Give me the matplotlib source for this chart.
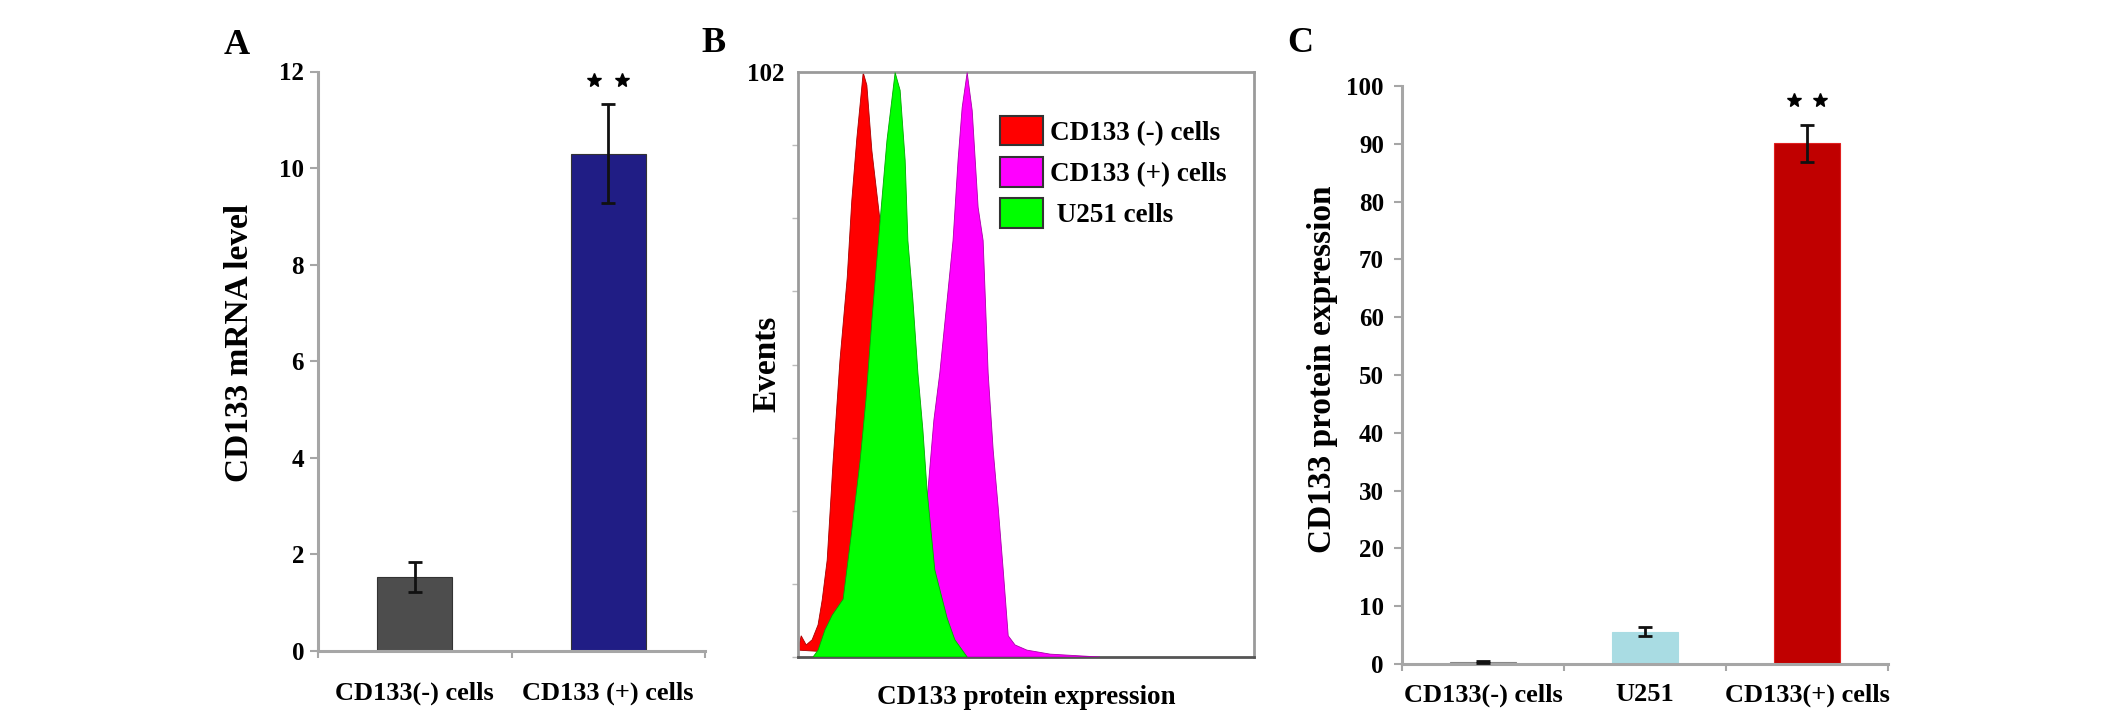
import numpy as np
import matplotlib
matplotlib.use("Agg")
import matplotlib.pyplot as plt
from matplotlib.patches import Patch

plt.rcParams['font.family'] = ['Liberation Serif', 'DejaVu Serif']
plt.rcParams['font.weight'] = 'bold'
plt.rcParams['axes.labelweight'] = 'bold'

# ---- panel A: mRNA level ----
a_labels = ['CD133(-) cells', 'CD133 (+) cells']
a_values = [1.53, 10.3]
a_errors = [0.31, 1.02]
a_colors = ['#4d4d4d', '#201d85']

# ---- panel B: flow cytometry histograms (channel, events) ----
red_x = [0, 7, 18, 31, 44, 53, 64, 77, 92, 108, 118, 129, 143, 151, 162, 180, 197, 213, 228, 246]
red_y = [1.2, 3.7, 2.1, 3.0, 5.6, 9.9, 16.9, 34.1, 51.7, 66.2, 79.6, 90.4, 101.9, 99.7, 88.3, 76.0, 53.5, 27.4, 6.4, 0]
green_x = [33, 44, 59, 75, 99, 118, 136, 149, 162, 180, 195, 213, 224, 235, 241, 252, 263, 274, 283, 300, 327, 344, 371]
green_y = [0, 1.2, 4.7, 7.3, 10.1, 22.1, 34.1, 44.8, 58.7, 76.0, 90.0, 101.9, 98.8, 86.6, 72.6, 62.2, 49.5, 39.5, 29.1, 15.2, 6.8, 3.0, 0]
mag_x = [246, 257, 268, 285, 298, 311, 327, 340, 351, 360, 371, 382, 395, 406, 417, 428, 439, 450, 461, 476, 502, 553, 618, 662]
mag_y = [0, 3.0, 16.9, 29.1, 41.3, 49.5, 62.2, 72.6, 86.6, 95.8, 101.9, 95.3, 78.4, 72.6, 49.5, 36.1, 26.1, 15.2, 3.7, 2.1, 1.2, 0.5, 0.2, 0]
hist_labels = ['CD133 (-) cells', 'CD133 (+) cells', ' U251 cells']
hist_colors = ['#ff0000', '#ff00ff', '#00ff00']

# ---- panel C: protein expression ----
c_labels = ['CD133(-) cells', 'U251', 'CD133(+) cells']
c_values = [0.3, 5.6, 90.1]
c_errors = [0.2, 0.8, 3.2]
c_colors = ['#9a9a9a', '#a9dce3', '#c00000']

W, H = 2126, 719
fig = plt.figure(figsize=(W / 100, H / 100), dpi=100)

def px_axes(left, right, top, bottom):
    return fig.add_axes([left / W, 1 - bottom / H, (right - left) / W, (bottom - top) / H])

spine_col = '#a6a6a6'

def style_bar_axes(ax, n, ymax, xpad, ypad, fs_x, fs_y):
    for s in ['top', 'right']:
        ax.spines[s].set_visible(False)
    for s in ['left', 'bottom']:
        ax.spines[s].set_color(spine_col)
        ax.spines[s].set_linewidth(2.2)
    ax.set_xlim(-0.5, n - 0.5)
    ax.set_ylim(0, ymax)
    ax.set_xticks(range(n))
    ax.set_xticks(np.arange(n + 1) - 0.5, minor=True)
    ax.tick_params(axis='x', which='major', length=0, pad=xpad, labelsize=fs_x)
    ax.tick_params(axis='x', which='minor', length=5, width=1.5, color=spine_col, direction='out')
    ax.tick_params(axis='y', length=6, width=1.5, color=spine_col, pad=ypad, labelsize=fs_y)

def stars(ax, xc, top, ymax, dx):
    y = top + 0.042 * ymax
    ax.plot([xc - dx, xc + dx], [y, y], linestyle='none', marker='*', ms=10, color='black')

# panel A
axA = px_axes(318, 705, 71.5, 651)
xa = np.arange(len(a_values))
axA.bar(xa, a_values, width=0.39, color=a_colors, edgecolor='#333333', linewidth=0.8, zorder=2)
axA.errorbar(xa, a_values, yerr=a_errors, fmt='none', ecolor='#111111', elinewidth=2, capsize=5, capthick=2, zorder=3)
style_bar_axes(axA, 2, 12, 22, 4, 19, 18)
axA.set_yticks(range(0, 13, 2))
axA.set_xticklabels(a_labels)
stars(axA, 1, a_values[1] + a_errors[1], 12, 0.072)

# panel B
axB = px_axes(798, 1254, 72, 657)
axB.fill(red_x, red_y, color=hist_colors[0], edgecolor='#aa0000', linewidth=0.6, zorder=2)
axB.fill(mag_x, mag_y, color=hist_colors[1], edgecolor='#aa00aa', linewidth=0.6, zorder=3)
axB.fill(green_x, green_y, color=hist_colors[2], edgecolor='#00aa00', linewidth=0.6, zorder=4)
axB.set_xlim(0, 1000)
axB.set_ylim(0, 102)
for s in ['top', 'right', 'left']:
    axB.spines[s].set_color('#9a9a9a')
    axB.spines[s].set_linewidth(2)
axB.spines['bottom'].set_color('#555555')
axB.spines['bottom'].set_linewidth(2)
axB.set_yticks([102])
axB.set_yticklabels(['102'])
axB.set_yticks(np.linspace(0, 102, 9), minor=True)
axB.tick_params(axis='y', which='major', length=0, pad=10, labelsize=18)
axB.tick_params(axis='y', which='minor', length=4, width=1, color='#bbbbbb', direction='out')
axB.set_xticks([])
axB.set_xlabel('CD133 protein expression', fontsize=19.5, fontweight='bold', labelpad=20)
handles = [Patch(facecolor=c, edgecolor='#333333', linewidth=1.5) for c in hist_colors]
axB.legend(handles, hist_labels, loc='upper left', bbox_to_anchor=(0.443, 0.925), frameon=False,
           fontsize=19.5, handlelength=1.6, handleheight=1.3, handletextpad=0.25,
           labelspacing=0.42, borderpad=0, borderaxespad=0)

# panel C
axC = px_axes(1402, 1888, 86, 664)
xc = np.arange(len(c_values))
axC.bar(xc, c_values, width=0.41, color=c_colors, edgecolor=['#888888', '#a9dce3', '#e02020'], linewidth=0.8, zorder=2)
axC.errorbar(xc, c_values, yerr=c_errors, fmt='none', ecolor='#111111', elinewidth=2, capsize=5, capthick=2, zorder=3)
style_bar_axes(axC, 3, 100, 14, 7, 19, 18)
axC.set_yticks(range(0, 101, 10))
axC.set_xticklabels(c_labels)
stars(axC, 2, c_values[2] + c_errors[2], 100, 0.083)

# axis titles and panel letters
fig.text(240 / W, 1 - 343 / H, 'CD133 mRNA level', rotation=90, ha='center', va='center', fontsize=24)
fig.text(767 / W, 1 - 364 / H, 'Events', rotation=90, ha='center', va='center', fontsize=24)
fig.text(1323 / W, 1 - 369 / H, 'CD133 protein expression', rotation=90, ha='center', va='center', fontsize=24)
fig.text(237 / W, 1 - 45 / H, 'A', ha='center', va='center', fontsize=26)
fig.text(713 / W, 1 - 44 / H, 'B', ha='center', va='center', fontsize=26)
fig.text(1300 / W, 1 - 44 / H, 'C', ha='center', va='center', fontsize=26)

fig.savefig('out.png', dpi=100, facecolor='white')
